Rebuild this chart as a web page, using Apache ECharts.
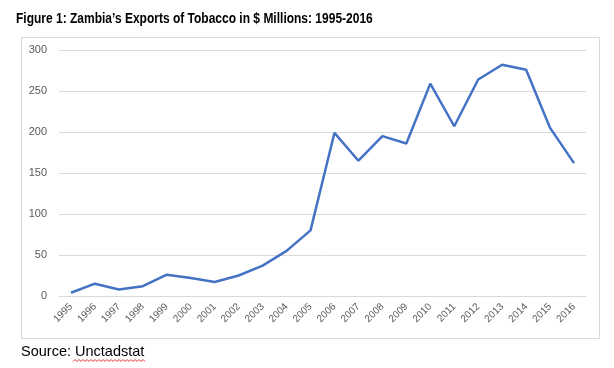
<!DOCTYPE html>
<html><head><meta charset="utf-8">
<script src="https://cdn.jsdelivr.net/npm/echarts@6/dist/echarts.min.js"></script>
<style>html,body{margin:0;padding:0;background:#fff}#c{width:614px;height:368px}</style>
</head><body><div id="c"></div>
<script>
const years = ['1995','1996','1997','1998','1999','2000','2001','2002','2003','2004','2005','2006','2007','2008','2009','2010','2011','2012','2013','2014','2015','2016'];
const exportsTobacco = [4,15,8,12,26,22,17,25,37,55,80,199,165,195,186,259,207,264,282,276,205,162];
const yTicks = {min:0, max:300, interval:50};
const titleText = 'Figure 1: Zambia\u2019s Exports of Tobacco in $ Millions: 1995-2016';
const sourceText = 'Source: Unctadstat';

const chart = echarts.init(document.getElementById('c'), null, {renderer:'canvas'});
const wave = [];
for (let x = 73, i = 0; x <= 146; x += 2, i++) wave.push([x, i % 2 ? 359.5 : 361.5]);
chart.setOption({
  animation:false,
  grid:{left:59, right:28, top:50, bottom:72},
  xAxis:{type:'category', data:years, boundaryGap:true,
    axisLine:{show:true, lineStyle:{color:'#d9d9d9'}}, axisTick:{show:false},
    axisLabel:{rotate:45, interval:0, fontSize:10, color:'#595959', fontFamily:'Liberation Sans, sans-serif', margin:9}},
  yAxis:{type:'value', min:yTicks.min, max:yTicks.max, interval:yTicks.interval,
    axisLine:{show:false}, axisTick:{show:false},
    splitLine:{lineStyle:{color:'#d9d9d9'}},
    axisLabel:{fontSize:11, color:'#595959', fontFamily:'Liberation Sans, sans-serif', margin:12}},
  series:[{type:'line', data:exportsTobacco, symbol:'none', lineStyle:{color:'#4472C4', width:2.5}}],
  graphic:[
    {type:'text', x:16, y:11, scaleX:0.8, style:{text:titleText, fontSize:15, fontWeight:'bold', fontFamily:'Liberation Sans, sans-serif', fill:'#000'}},
    {type:'rect', shape:{x:21.5, y:37.5, width:578, height:301}, style:{fill:null, stroke:'#d9d9d9', lineWidth:1}, silent:true, z:-1},
    {type:'text', x:21, y:344, style:{text:sourceText, fontSize:14.5, fontFamily:'Liberation Sans, sans-serif', fill:'#000'}},
    {type:'polyline', shape:{points:wave}, style:{stroke:'#e03030', lineWidth:1, fill:null}}
  ]
});
</script></body></html>
